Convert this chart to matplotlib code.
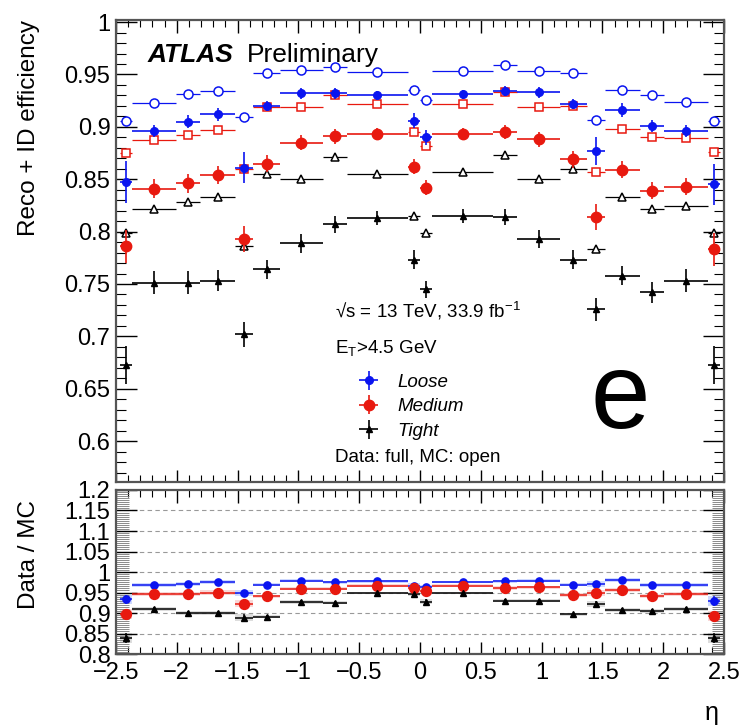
import numpy as np
import matplotlib
matplotlib.use("Agg")
import matplotlib.pyplot as plt
from matplotlib.ticker import MultipleLocator, FuncFormatter

plt.rcParams["font.family"] = ["Liberation Sans", "DejaVu Sans"]
plt.rcParams["mathtext.fontset"] = "custom"
plt.rcParams["mathtext.rm"] = "Liberation Sans"
plt.rcParams["mathtext.it"] = "Liberation Sans:italic"

# === eta binning (electron bins) ===
eta_edges = [-2.47, -2.37, -2.01, -1.81, -1.52, -1.37, -1.15, -0.8, -0.6, -0.1, 0.0,
             0.1, 0.6, 0.8, 1.15, 1.37, 1.52, 1.81, 2.01, 2.37, 2.47]

# === efficiencies ===
loose_data = [0.847, 0.896, 0.905, 0.912, 0.861, 0.920, 0.932, 0.932, 0.930, 0.906,
              0.890, 0.931, 0.934, 0.933, 0.922, 0.877, 0.916, 0.901, 0.896, 0.845]
loose_data_err = [0.020, 0.006, 0.006, 0.006, 0.015, 0.005, 0.005, 0.005, 0.004, 0.007,
                  0.007, 0.004, 0.005, 0.005, 0.005, 0.013, 0.007, 0.006, 0.006, 0.020]
loose_mc = [0.906, 0.923, 0.931, 0.934, 0.909, 0.951, 0.954, 0.957, 0.952, 0.935,
            0.926, 0.953, 0.959, 0.953, 0.951, 0.907, 0.935, 0.930, 0.924, 0.906]

medium_data = [0.786, 0.841, 0.846, 0.854, 0.793, 0.865, 0.885, 0.891, 0.893, 0.862,
               0.842, 0.893, 0.895, 0.888, 0.869, 0.814, 0.859, 0.839, 0.843, 0.783]
medium_data_err = [0.016, 0.009, 0.009, 0.009, 0.012, 0.008, 0.007, 0.007, 0.006, 0.007,
                   0.007, 0.006, 0.007, 0.007, 0.008, 0.012, 0.008, 0.008, 0.008, 0.016]
medium_mc = [0.875, 0.887, 0.892, 0.897, 0.860, 0.919, 0.919, 0.930, 0.922, 0.895,
             0.882, 0.922, 0.933, 0.919, 0.920, 0.857, 0.898, 0.890, 0.889, 0.876]

tight_data = [0.673, 0.751, 0.751, 0.753, 0.702, 0.764, 0.789, 0.807, 0.813, 0.773,
              0.745, 0.815, 0.814, 0.793, 0.773, 0.726, 0.758, 0.742, 0.753, 0.673]
tight_data_err = [0.018, 0.011, 0.011, 0.010, 0.012, 0.009, 0.009, 0.008, 0.007, 0.009,
                  0.008, 0.007, 0.008, 0.009, 0.009, 0.011, 0.009, 0.010, 0.011, 0.018]
tight_mc = [0.799, 0.822, 0.828, 0.833, 0.786, 0.855, 0.850, 0.871, 0.855, 0.815,
            0.799, 0.857, 0.873, 0.850, 0.860, 0.783, 0.833, 0.822, 0.824, 0.799]

mc_err = [0.002, 0.002, 0.002, 0.002, 0.002, 0.002, 0.002, 0.002, 0.002, 0.002,
          0.002, 0.002, 0.002, 0.002, 0.002, 0.002, 0.002, 0.002, 0.002, 0.002]

# === data / MC ===
loose_ratio = [0.933, 0.969, 0.971, 0.975, 0.949, 0.969, 0.979, 0.975, 0.977, 0.967,
               0.963, 0.975, 0.977, 0.979, 0.969, 0.971, 0.981, 0.969, 0.969, 0.930]
medium_ratio = [0.897, 0.946, 0.946, 0.950, 0.923, 0.941, 0.959, 0.959, 0.967, 0.961,
                0.953, 0.967, 0.961, 0.963, 0.944, 0.949, 0.956, 0.942, 0.946, 0.893]
tight_ratio = [0.840, 0.910, 0.901, 0.901, 0.889, 0.891, 0.927, 0.925, 0.949, 0.946,
               0.928, 0.949, 0.930, 0.930, 0.897, 0.922, 0.908, 0.904, 0.910, 0.840]
ratio_err = [0.012, 0.005, 0.005, 0.005, 0.008, 0.004, 0.004, 0.004, 0.003, 0.005,
             0.005, 0.003, 0.004, 0.004, 0.004, 0.008, 0.005, 0.005, 0.005, 0.012]

labels = ["Loose", "Medium", "Tight"]

edges = np.array(eta_edges)
eta = 0.5 * (edges[1:] + edges[:-1])
half = 0.5 * (edges[1:] - edges[:-1])

BLUE = "#0a14f0"
RED = "#e8190f"
BLACK = "#000000"

series = [
    (loose_data, loose_data_err, loose_mc, loose_ratio, BLUE, "o", 5.5, "o", 6.5, "#9fb4ff"),
    (medium_data, medium_data_err, medium_mc, medium_ratio, RED, "o", 7.5, "s", 6.0, "#f5b3b0"),
    (tight_data, tight_data_err, tight_mc, tight_ratio, BLACK, "^", 5.0, "^", 5.5, "#bdbdbd"),
]

fig = plt.figure(figsize=(7.41, 7.27), dpi=100)
ax = fig.add_axes([0.1565, 0.337, 0.8205, 0.6355])
rax = fig.add_axes([0.1565, 0.1004, 0.8205, 0.2256])

handles = []
for (dat, derr, mc, rat, col, dm, dms, mm, mms, light) in series:
    ax.errorbar(eta, mc, xerr=half, yerr=mc_err, fmt=mm, ms=mms, mfc="white", mec=col,
                mew=1.1, color=col, lw=0.9, capsize=0, zorder=2)
    h = ax.errorbar(eta, dat, xerr=half, yerr=derr, fmt=dm, ms=dms, color=col,
                    lw=1.2, capsize=0, zorder=3)
    handles.append(h)

    rax.bar(eta, 2 * np.array(ratio_err), bottom=np.array(rat) - np.array(ratio_err),
            width=2 * half, color=light, alpha=0.5, lw=0, zorder=1)
    rax.errorbar(eta, rat, xerr=half, yerr=ratio_err, fmt=dm, ms=dms * 0.95, color=col,
                 lw=1.1, capsize=0, zorder=3)

# === ejes ===
fmt = FuncFormatter(lambda v, p: ("%g" % round(v, 3)).replace("-", "\u2212"))

for a in (ax, rax):
    a.set_xlim(-2.5, 2.5)
    a.xaxis.set_major_locator(MultipleLocator(0.5))
    a.xaxis.set_minor_locator(MultipleLocator(0.1))
    a.tick_params(which="both", direction="in", top=True, right=True)
    a.tick_params(axis="x", which="major", length=9, width=1.0)
    a.tick_params(axis="x", which="minor", length=5, width=0.8)
    a.tick_params(axis="y", labelsize=17, pad=4)
    for s in a.spines.values():
        s.set_linewidth(1.6)
        s.set_color("#555555")

ax.set_ylim(0.561, 1.002)
ax.yaxis.set_major_locator(MultipleLocator(0.05))
ax.yaxis.set_minor_locator(MultipleLocator(0.01))
ax.yaxis.set_major_formatter(fmt)
ax.tick_params(axis="y", which="major", length=15, width=1.0)
ax.tick_params(axis="y", which="minor", length=7, width=0.8)
ax.tick_params(labelbottom=False)

rax.set_ylim(0.8, 1.2)
rax.yaxis.set_major_locator(MultipleLocator(0.05))
rax.yaxis.set_minor_locator(MultipleLocator(0.005))
rax.yaxis.set_major_formatter(fmt)
rax.xaxis.set_major_formatter(fmt)
rax.tick_params(axis="y", which="major", length=15, width=1.0)
rax.tick_params(axis="y", which="minor", length=9, width=0.6, color="#777777")
rax.tick_params(axis="x", labelsize=17, pad=6)
for g in [0.85, 0.9, 0.95, 1.0, 1.05, 1.1, 1.15]:
    rax.axhline(g, color="#999999", lw=0.8, ls=(0, (4, 3)), zorder=0)

ax.set_ylabel("Reco + ID efficiency", fontsize=17.5, loc="top")
ax.yaxis.set_label_coords(-0.125, 1.0)
rax.set_ylabel("Data / MC", fontsize=17.5, loc="top")
rax.yaxis.set_label_coords(-0.125, 0.94)
fig.text(712 / 741, 1 - 713 / 727, "\u03b7", ha="center", va="center", fontsize=18)

# === textos ===
ax.text(0.0526, 0.909, "ATLAS", transform=ax.transAxes, fontsize=19,
        fontweight="bold", style="italic", va="baseline")
ax.text(0.2155, 0.909, "Preliminary", transform=ax.transAxes, fontsize=19, va="baseline")
ax.text(0.36, 0.370, "\u221as = 13 TeV, 33.9 fb$^{-1}$", transform=ax.transAxes,
        fontsize=13.5, va="center")
ax.text(0.36, 0.290, "E$_{\\mathrm{T}}$>4.5 GeV", transform=ax.transAxes,
        fontsize=13.5, va="center")
ax.text(0.36, 0.052, "Data: full, MC: open", transform=ax.transAxes,
        fontsize=13.5, va="center")
ax.text(0.83, 0.117, "e", transform=ax.transAxes, fontsize=77, ha="center", va="baseline")

ax.legend(handles, labels, loc="upper left", bbox_to_anchor=(0.365, 0.255),
          frameon=False, borderpad=0, handlelength=2.3, handletextpad=0.35,
          labelspacing=0.4, prop={"style": "italic", "size": 13.5})

plt.savefig("out.png", dpi=100)
plt.close()
